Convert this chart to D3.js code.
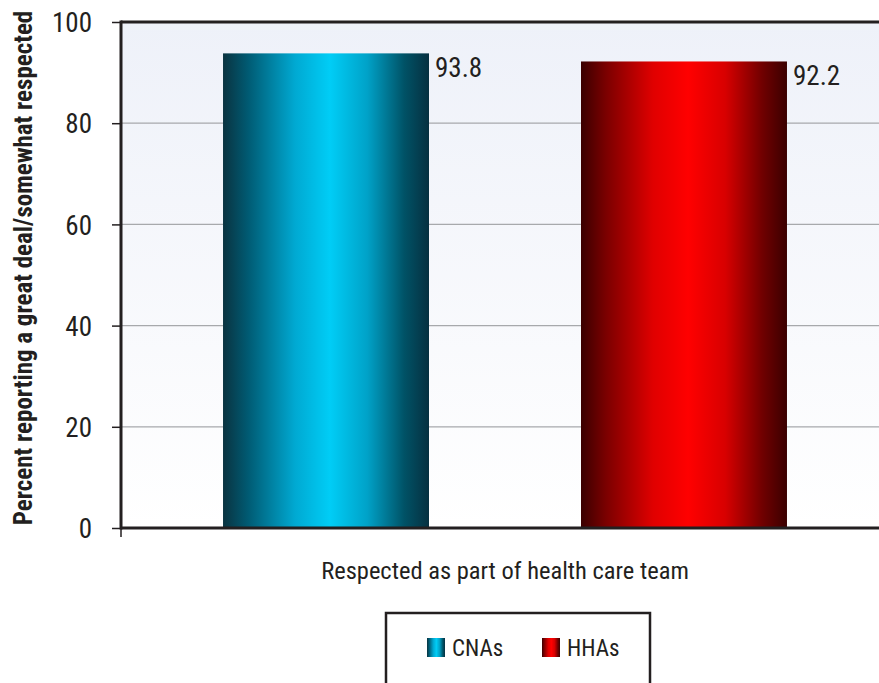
<!DOCTYPE html>
<html><head><meta charset="utf-8">
<script src="https://cdn.jsdelivr.net/npm/d3@7"></script>
<style>
body{margin:0;background:#fff;}
text{font-family:"Liberation Sans Narrow","Roboto Condensed","Arial Narrow",sans-serif;fill:#231f20;}
</style></head>
<body><svg id="c" width="879" height="683"></svg>
<script>
const categories = ["Respected as part of health care team"];
const seriesNames = ["CNAs", "HHAs"];
const seriesValues = [93.8, 92.2];
const yTicks = [0, 20, 40, 60, 80, 100];
const yTitle = "Percent reporting a great deal/somewhat respected";

(function(){
const svg = d3.select("#c");
const pL = 121, pT = 22, pB = 528, pR = 889;
const y = d3.scaleLinear().domain([0, 100]).range([pB, pT]);
const x0 = d3.scaleBand().domain(categories).range([pL, pR]).paddingInner(0).paddingOuter(0);
const x1 = d3.scaleBand().domain(seriesNames).range([0, x0.bandwidth()]).paddingInner(0.4246).paddingOuter(0.285);

const defs = svg.append("defs");
const bg = defs.append("linearGradient").attr("id","bg").attr("x1",0).attr("y1",0).attr("x2",0).attr("y2",1);
bg.append("stop").attr("offset","0%").attr("stop-color","#eef1f9");
bg.append("stop").attr("offset","100%").attr("stop-color","#ffffff");

const grads = {
  CNAs: [["0%","#0a3340"],["12%","#005a72"],["35%","#00a9d2"],["52%","#00cdf6"],["70%","#00a2c8"],["88%","#005266"],["100%","#063040"]],
  HHAs: [["0%","#3a0000"],["12%","#7a0000"],["35%","#e00000"],["52%","#ff0000"],["70%","#d80000"],["88%","#700000"],["100%","#3a0000"]]
};
Object.entries(grads).forEach(([k, stops]) => {
  const g = defs.append("linearGradient").attr("id","g"+k).attr("x1",0).attr("y1",0).attr("x2",1).attr("y2",0);
  stops.forEach(s => g.append("stop").attr("offset",s[0]).attr("stop-color",s[1]));
});

svg.append("rect").attr("x",pL).attr("y",pT).attr("width",pR-pL).attr("height",pB-pT).attr("fill","url(#bg)");

svg.append("g").selectAll("line").data(yTicks.filter(d=>d>0 && d<100)).join("line")
  .attr("x1",pL).attr("x2",pR).attr("y1",d=>y(d)).attr("y2",d=>y(d))
  .attr("stroke","#a7a9ac").attr("stroke-width",1.2);

const data = seriesNames.map((s,i)=>({cat:categories[0], s, v:seriesValues[i]}));
svg.append("g").selectAll("rect").data(data).join("rect")
  .attr("x",d=>x0(d.cat)+x1(d.s)).attr("width",x1.bandwidth())
  .attr("y",d=>y(d.v)).attr("height",d=>y(0)-y(d.v))
  .attr("fill",d=>"url(#g"+d.s+")");

svg.append("g").selectAll("text").data(data).join("text")
  .attr("x",d=>x0(d.cat)+x1(d.s)+x1.bandwidth()+6).attr("y",d=>y(d.v)+24)
  .attr("font-size",27).text(d=>d.v.toFixed(1));

svg.append("line").attr("x1",pL).attr("x2",pR).attr("y1",pT).attr("y2",pT).attr("stroke","#231f20").attr("stroke-width",3);
svg.append("line").attr("x1",pL).attr("x2",pL).attr("y1",pT-1.5).attr("y2",pB+1.5).attr("stroke","#231f20").attr("stroke-width",3);
svg.append("line").attr("x1",pL).attr("x2",pR).attr("y1",pB).attr("y2",pB).attr("stroke","#231f20").attr("stroke-width",3);

const yAxis = svg.append("g").attr("transform",`translate(${pL},0)`)
  .call(d3.axisLeft(y).tickValues(yTicks).tickSize(9).tickPadding(20));
yAxis.select(".domain").remove();
yAxis.selectAll("line").attr("stroke","#231f20").attr("stroke-width",1.5);
yAxis.selectAll("text").attr("font-size",27).attr("fill","#231f20").attr("dy","0.36em")
  .style("font-family",'"Liberation Sans Narrow","Roboto Condensed",sans-serif');

svg.append("line").attr("x1",pL).attr("x2",pL).attr("y1",pB).attr("y2",pB+9).attr("stroke","#231f20").attr("stroke-width",1.5);

svg.append("text").attr("transform",`translate(32,268) rotate(-90)`)
  .attr("text-anchor","middle").attr("font-size",25).attr("font-weight","bold").text(yTitle);

svg.append("text").attr("x",x0(categories[0])+x0.bandwidth()/2).attr("y",579)
  .attr("text-anchor","middle").attr("font-size",24.5).text(categories[0]);

svg.append("rect").attr("x",386).attr("y",613).attr("width",264).attr("height",90)
  .attr("fill","#fff").attr("stroke","#231f20").attr("stroke-width",2.5);
const legX = [427, 542];
const lg = svg.append("g").selectAll("g").data(seriesNames).join("g")
  .attr("transform",(d,i)=>`translate(${legX[i]},638)`);
lg.append("rect").attr("width",18).attr("height",19).attr("fill",d=>"url(#g"+d+")");
lg.append("text").attr("x",25).attr("y",18).attr("font-size",23).text(d=>d);
})();
</script></body></html>
